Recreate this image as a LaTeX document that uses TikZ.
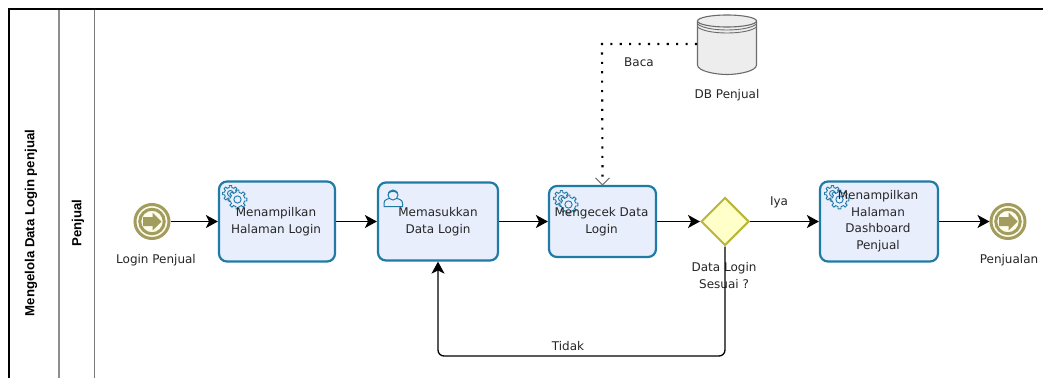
\documentclass[tikz,border=0pt]{standalone}
\usepackage{fontspec}
\setmainfont{DejaVu Sans}
\newfontfamily\lanefont{Liberation Sans}
\usetikzlibrary{arrows.meta,shapes.geometric,calc}
\definecolor{taskblue}{HTML}{1F7AA6}
\definecolor{taskfill}{HTML}{E9EEFD}
\definecolor{olive}{HTML}{A29C5E}
\definecolor{evfill}{HTML}{FFFDEB}
\definecolor{gwline}{HTML}{B9B63A}
\definecolor{gwfill}{HTML}{FFFFC9}
\definecolor{lanegray}{HTML}{8E8E8E}
\tikzset{
  x=1pt,y=-1pt,
  lbl/.style={font=\fontsize{12}{16.5}\selectfont,align=center,inner sep=0pt,text=black!85},
  task/.style={lbl,draw=taskblue,fill=taskfill,line width=2.2pt,rounded corners=8pt,inner sep=0pt},
  event/.style={circle,draw=olive,fill=evfill,line width=3pt,minimum size=34pt,inner sep=0pt},
  evring/.style={circle,draw=olive,fill=none,line width=3pt,minimum size=24.5pt,inner sep=0pt},
  gateway/.style={diamond,draw=gwline,fill=gwfill,line width=2pt,minimum width=48pt,minimum height=48pt,inner sep=0pt},
  flow/.style={draw=black,line width=1.6pt,-{Stealth[length=12pt,width=13pt,inset=3.2pt]}},
  assoc/.style={draw=black,line width=2.1pt,dash pattern=on 2.1pt off 7.3pt},
  lanetitle/.style={font=\lanefont\bfseries\fontsize{13.2}{14}\selectfont,rotate=90,inner sep=0pt}
}
% one gear wheel: centre x, centre y, tooth radius
\newcommand{\gearwheel}[3]{%
  \fill[taskfill] (#1,#2) circle[radius=#3*0.8];
  \foreach \a in {0,45,...,315}{%
    \draw[taskblue,line width=0.9pt,line join=round]
      ($(#1,#2)+(\a-22.5:#3*0.76)$) -- ($(#1,#2)+(\a-12:#3*0.76)$) --
      ($(#1,#2)+(\a-9:#3)$) -- ($(#1,#2)+(\a+9:#3)$) --
      ($(#1,#2)+(\a+12:#3*0.76)$) -- ($(#1,#2)+(\a+22.5:#3*0.76)$);
  }%
  \draw[taskblue,line width=0.9pt] (#1,#2) circle[radius=#3*0.38];
}
\newcommand{\gearicon}[2]{%
  \gearwheel{#1+8.5}{#2+8.5}{8}
  \gearwheel{#1+15.5}{#2+14.5}{9.5}
}
\newcommand{\evarrow}[2]{%
  \fill[olive] (#1-9,#2-4.5) -- (#1+0.5,#2-4.5) -- (#1+0.5,#2-9) -- (#1+9.5,#2) -- (#1+0.5,#2+9) -- (#1+0.5,#2+4.5) -- (#1-9,#2+4.5) -- cycle;
}
\begin{document}
\begin{tikzpicture}
\useasboundingbox (0,0) rectangle (1043,378);
\fill[white] (0,0) rectangle (1043,378);
% pool and lane
\draw[lanegray,line width=1.2pt] (59,8) -- (59,378);
\draw[lanegray!85!black,line width=1.1pt] (94.5,8) -- (94.5,378);
\draw[black,line width=2pt] (8.5,378) -- (8.5,8.5) -- (1043,8.5);
\node[lanetitle] (pool) at (31,223) {Mengelola Data Login penjual};
\node[lanetitle] (lane) at (78,223) {Penjual};
% flow objects
\node[event] (start) at (152,221.5) {};
\node[evring] (startin) at (152,221.5) {};
\evarrow{152}{221.5}
\node[task,minimum width=116pt,minimum height=80pt] (t1) at (277,221.5) {};
\node[task,minimum width=120pt,minimum height=78pt] (t2) at (438,221.5) {};
\node[task,minimum width=107pt,minimum height=71pt] (t3) at (602.5,221.5) {};
\node[gateway] (gw) at (725,221.5) {};
\node[task,minimum width=118pt,minimum height=80pt] (t4) at (879,221.5) {};
\node[event] (end) at (1008,221.5) {};
\node[evring] (endin) at (1008,221.5) {};
\evarrow{1008}{221.5}
% database
\draw[black!58,line width=1.1pt,fill=black!7] (697.5,21) -- (697.5,65) .. controls (697.5,71) and (715,74.5) .. (727,74.5) .. controls (739,74.5) and (756.5,71) .. (756.5,65) -- (756.5,21);
\draw[black!58,line width=1.1pt,fill=black!7] (727,21) ellipse[x radius=29.5,y radius=6];
\draw[black!58,line width=0.9pt] (697.5,24) .. controls (707,32) and (747,32) .. (756.5,24);
\draw[black!58,line width=0.9pt] (697.5,27) .. controls (707,35) and (747,35) .. (756.5,27);
\coordinate (db) at (697,44);
\coordinate (corner) at (602,44);
\coordinate (t3top) at (t3.north);
% icons
\gearicon{222}{185}
\gearicon{553}{190}
\gearicon{824}{185}
\draw[taskblue,line width=1pt,fill=taskfill] (384,206.5) -- (384,203) .. controls (384,199.5) and (388,199) .. (390,198) -- (396,198) .. controls (398,199) and (402.5,199.5) .. (402.5,203) -- (402.5,206.5) -- cycle;
\draw[taskblue,line width=1pt,fill=taskfill] (393,195) circle[radius=5];
\draw[taskblue,line width=1.5pt] (388.5,193) .. controls (390,190.5) and (396,190.5) .. (397.5,193);
% task labels
\node[lbl] (l1) at (276,221.5) {Menampilkan\\Halaman Login};
\node[lbl] (l2) at (438,221.5) {Memasukkan\\Data Login};
\node[lbl] (l3) at (601.5,221.5) {Mengecek Data\\Login};
\node[lbl] (l4) at (878,221) {Menampilkan\\Halaman\\Dashboard\\Penjual};
% sequence flows
\draw[flow] (start) -- (t1);
\draw[flow] (t1) -- (t2);
\draw[flow] (t2) -- (t3);
\draw[flow] (t3) -- (gw);
\draw[flow] (gw) -- (t4);
\draw[flow] (t4) -- (end);
\node[lbl] (gwl) at (724,275.5) {Data Login\\Sesuai ?};
\coordinate (b1) at (725,356);
\coordinate (b2) at (438,356);
\draw[flow,line width=1.3pt,rounded corners=6pt] (gw.south) -- (b1) -- (b2) -- (t2.south);
% association
\draw[assoc] (db) -- (corner) -- ($(t3top)+(0,-6)$);
\draw[black!55,line width=1pt] ($(t3top)+(-7,-7)$) -- (t3top) -- ($(t3top)+(7,-7)$);
% labels
\node[lbl] (ls) at (156,260) {Login Penjual};
\node[lbl] (le) at (1009,260) {Penjualan};
\node[lbl] (ldb) at (727,95.5) {DB Penjual};
\node[lbl] (lb) at (639,62.5) {Baca};
\node[lbl] (ly) at (779,202) {Iya};
\node[lbl] (lt) at (568,346) {Tidak};
\end{tikzpicture}
\end{document}
